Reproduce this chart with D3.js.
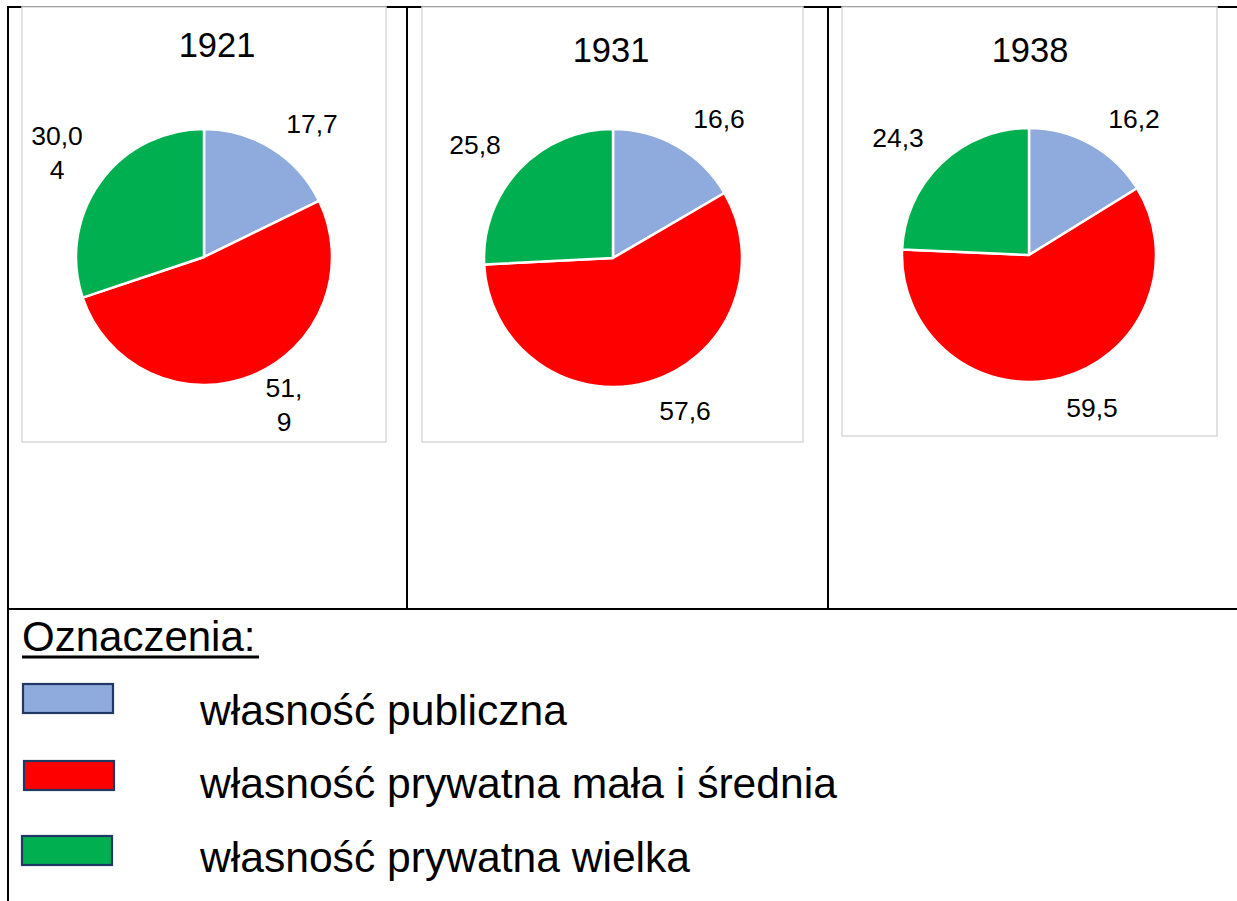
<!DOCTYPE html>
<html>
<head>
<meta charset="utf-8">
<script src="https://cdn.jsdelivr.net/npm/d3@7"></script>
<style>
  html, body { margin: 0; padding: 0; background: #fff; }
  svg { display: block; font-family: "Liberation Sans", Arial, sans-serif; }
</style>
</head>
<body>
<svg id="chart" width="1237" height="901"></svg>
<script>
// ---- data ----
const categories = ["własność publiczna", "własność prywatna mała i średnia", "własność prywatna wielka"];
const years = ["1921", "1931", "1938"];
const values1921 = [17.7, 51.9, 30.04];
const values1931 = [16.6, 57.6, 25.8];
const values1938 = [16.2, 59.5, 24.3];
const labels1921 = [["17,7"], ["51,", "9"], ["30,0", "4"]];
const labels1931 = [["16,6"], ["57,6"], ["25,8"]];
const labels1938 = [["16,2"], ["59,5"], ["24,3"]];
const colors = ["#8FAADC", "#FF0000", "#00B050"];
const legendTitle = "Oznaczenia:";

const svg = d3.select("#chart");

// ---- table lines ----
const tbl = svg.append("g").attr("stroke", "#000").attr("stroke-width", 2);
tbl.append("line").attr("x1", 8).attr("x2", 1237).attr("y1", 7).attr("y2", 7);
tbl.append("line").attr("x1", 8).attr("x2", 8).attr("y1", 6).attr("y2", 901);
tbl.append("line").attr("x1", 8).attr("x2", 1237).attr("y1", 609).attr("y2", 609);
tbl.append("line").attr("x1", 407).attr("x2", 407).attr("y1", 6).attr("y2", 609);
tbl.append("line").attr("x1", 828).attr("x2", 828).attr("y1", 6).attr("y2", 609);

// ---- pies ----
const panels = [
  { year: years[0], values: values1921, labels: labels1921,
    box: [22, 7, 364, 435], cx: 204, cy: 257, r: 128, titleX: 217, titleY: 57,
    lab: [[312, 133], [284, 397], [57, 145]] },
  { year: years[1], values: values1931, labels: labels1931,
    box: [422, 7, 381, 435], cx: 613, cy: 258, r: 129, titleX: 611, titleY: 62,
    lab: [[719, 128], [685, 420], [475, 154]] },
  { year: years[2], values: values1938, labels: labels1938,
    box: [842, 7, 375, 429], cx: 1029, cy: 255, r: 127, titleX: 1030, titleY: 62,
    lab: [[1134, 128], [1092, 417], [898, 147]] }
];

const pie = d3.pie().sort(null).value(d => d);

panels.forEach(p => {
  const g = svg.append("g");
  g.append("rect")
    .attr("x", p.box[0]).attr("y", p.box[1])
    .attr("width", p.box[2]).attr("height", p.box[3])
    .attr("fill", "#fff").attr("stroke", "#D9D9D9").attr("stroke-width", 1.5);
  g.append("text")
    .attr("x", p.titleX).attr("y", p.titleY)
    .attr("text-anchor", "middle")
    .attr("font-size", 34.5).attr("fill", "#000")
    .text(p.year);
  const arc = d3.arc().innerRadius(0).outerRadius(p.r);
  g.append("g").attr("transform", `translate(${p.cx},${p.cy})`)
    .selectAll("path").data(pie(p.values)).join("path")
    .attr("d", arc)
    .attr("fill", (d, i) => colors[i])
    .attr("stroke", "#fff").attr("stroke-width", 2.5).attr("stroke-linejoin", "round");
  p.labels.forEach((lines, i) => {
    const t = g.append("text")
      .attr("x", p.lab[i][0]).attr("y", p.lab[i][1])
      .attr("text-anchor", "middle").attr("font-size", 26.5).attr("fill", "#000");
    lines.forEach((ln, k) => {
      t.append("tspan").attr("x", p.lab[i][0]).attr("dy", k === 0 ? 0 : 34).text(ln);
    });
  });
});

// ---- legend ----
const lg = svg.append("g");
lg.append("text").attr("x", 22).attr("y", 651)
  .attr("font-size", 42).attr("fill", "#000").text(legendTitle);
lg.append("line").attr("x1", 22).attr("x2", 259).attr("y1", 657).attr("y2", 657)
  .attr("stroke", "#000").attr("stroke-width", 3);

const swY = [684, 761, 836];
const swX = [23, 24, 22];
const txtY = [725, 798, 872];
categories.forEach((c, i) => {
  lg.append("rect").attr("x", swX[i]).attr("y", swY[i]).attr("width", 90).attr("height", 29)
    .attr("fill", colors[i]).attr("stroke", "#1F3864").attr("stroke-width", 2.2);
  lg.append("text").attr("x", 200).attr("y", txtY[i])
    .attr("font-size", 42.6).attr("fill", "#000").text(c);
});
</script>
</body>
</html>
